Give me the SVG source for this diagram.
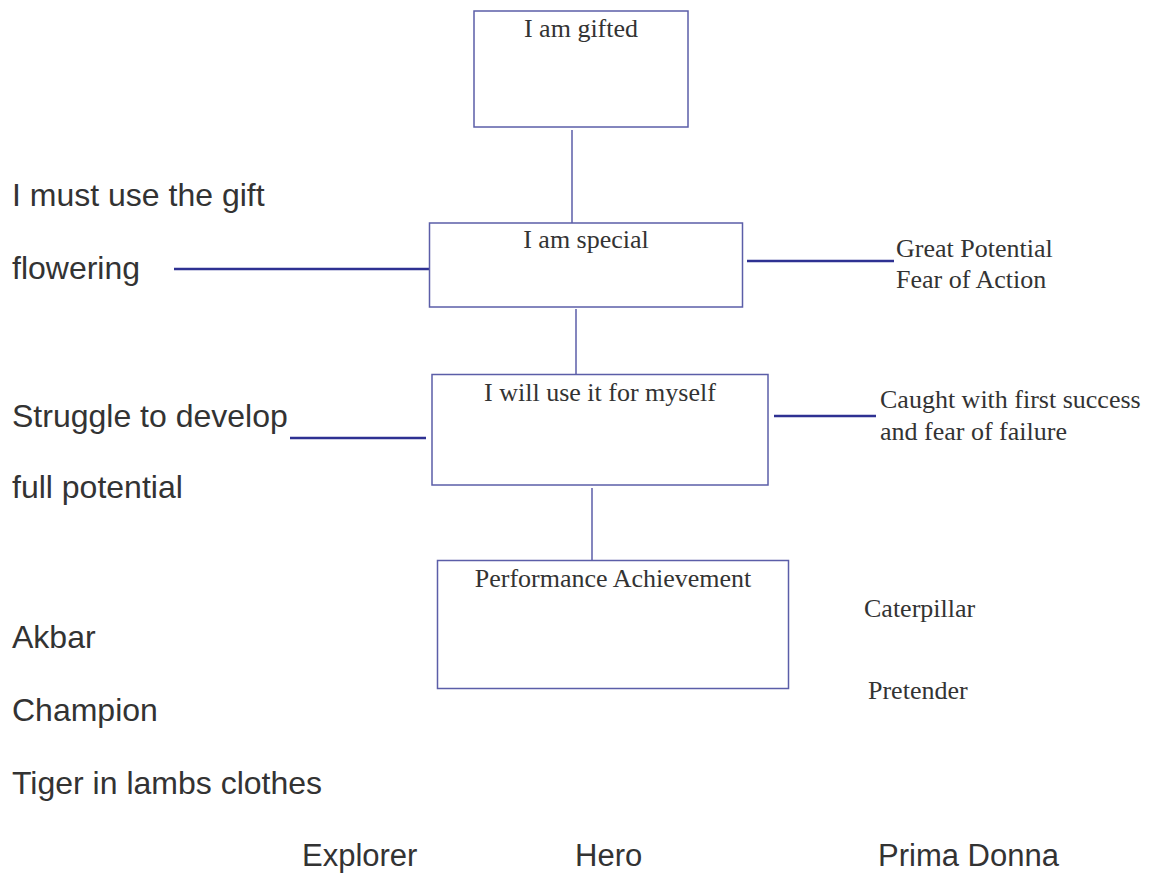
<svg xmlns="http://www.w3.org/2000/svg" width="1159" height="882" viewBox="0 0 1159 882">
<style>
.box{fill:#fff;stroke:#5b5ea8;stroke-width:1.5}
.v{stroke:#5b5ea8;stroke-width:1.5;fill:none}
.h{stroke:#2e3192;stroke-width:2.5;fill:none}
.s{font-family:"Liberation Serif","Times New Roman",serif;font-size:26px;fill:#333}
.a{font-family:"Liberation Sans",Arial,sans-serif;font-size:32px;fill:#333}
.b{font-family:"Liberation Sans",Arial,sans-serif;font-size:31px;fill:#333}
</style>
<rect width="1159" height="882" fill="#fff"/>
<g id="connectors">
<line class="v" x1="572" y1="130" x2="572" y2="223"/>
<line class="v" x1="576" y1="309" x2="576" y2="374"/>
<line class="v" x1="592" y1="488" x2="592" y2="564"/>
<line class="h" x1="174" y1="269" x2="433" y2="269"/>
<line class="h" x1="290" y1="438" x2="426" y2="438"/>
<line class="h" x1="747" y1="261" x2="894" y2="261"/>
<line class="h" x1="774" y1="416" x2="876" y2="416"/>
</g>
<g id="gifted">
<rect class="box" x="474" y="11" width="214" height="116"/>
<text class="s" x="581" y="37" text-anchor="middle">I am gifted</text>
</g>
<g id="special">
<rect class="box" x="429.5" y="223" width="313" height="84"/>
<text class="s" x="586" y="248" text-anchor="middle">I am special</text>
</g>
<g id="myself">
<rect class="box" x="432" y="374.5" width="336" height="110.5"/>
<text class="s" x="600" y="401" text-anchor="middle">I will use it for myself</text>
</g>
<g id="performance">
<rect class="box" x="437.5" y="560.5" width="351" height="128"/>
<text class="s" x="613" y="587" text-anchor="middle">Performance Achievement</text>
</g>
<g id="left-labels">
<text class="a" x="12" y="206">I must use the gift</text>
<text class="a" x="12" y="279">flowering</text>
<text class="a" x="12" y="427">Struggle to develop</text>
<text class="a" x="12" y="498">full potential</text>
<text class="a" x="12" y="648">Akbar</text>
<text class="a" x="12" y="721">Champion</text>
<text class="a" x="12" y="794">Tiger in lambs clothes</text>
</g>
<g id="right-labels">
<text class="s" x="896" y="257">Great Potential</text>
<text class="s" x="896" y="288">Fear of Action</text>
<text class="s" x="880" y="408">Caught with first success</text>
<text class="s" x="880" y="440">and fear of failure</text>
<text class="s" x="864" y="617">Caterpillar</text>
<text class="s" x="868" y="699">Pretender</text>
</g>
<g id="bottom-labels">
<text class="b" x="302" y="866">Explorer</text>
<text class="b" x="575" y="866">Hero</text>
<text class="b" x="878" y="866">Prima Donna</text>
</g>
</svg>
